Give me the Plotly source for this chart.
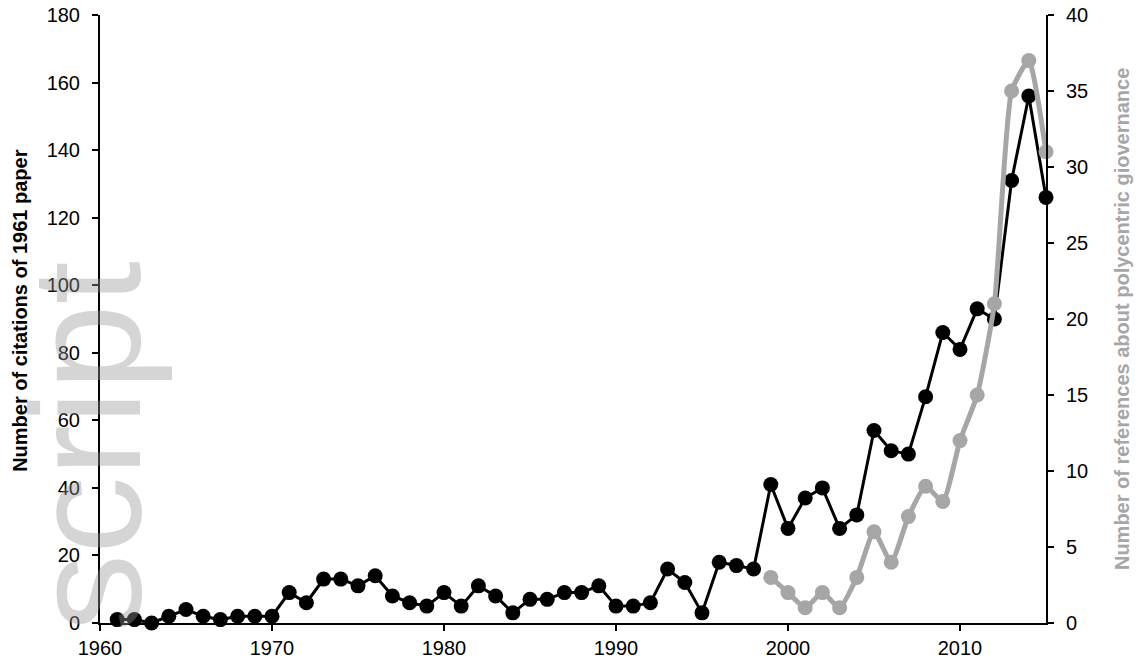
import plotly.graph_objects as go

years_cit = list(range(1961, 2016))
citations = [1, 1, 0, 2, 4, 2, 1, 2, 2, 2,
             9, 6, 13, 13, 11, 14, 8, 6, 5, 9,
             5, 11, 8, 3, 7, 7, 9, 9, 11, 5,
             5, 6, 16, 12, 3, 18, 17, 16, 41, 28,
             37, 40, 28, 32, 57, 51, 50, 67, 86, 81,
             93, 90, 131, 156, 126]

years_ref = list(range(1999, 2016))
references = [3, 2, 1, 2, 1, 3, 6, 4, 7, 9, 8, 12, 15, 21, 35, 37, 31]

x_ticks = [1960, 1970, 1980, 1990, 2000, 2010]
left_ticks = list(range(0, 181, 20))
right_ticks = list(range(0, 41, 5))

GRAY = "#a6a6a6"
FONT = "Liberation Sans, Arial, sans-serif"

fig = go.Figure()
fig.add_trace(go.Scatter(
    x=years_cit, y=citations, mode="lines+markers",
    line=dict(color="black", width=3),
    marker=dict(color="black", size=15),
    name="Citations", yaxis="y", cliponaxis=False,
))
fig.add_trace(go.Scatter(
    x=years_ref, y=references, mode="lines+markers",
    line=dict(color=GRAY, width=5, shape="spline", smoothing=0.5),
    marker=dict(color=GRAY, size=15),
    name="References", yaxis="y2", cliponaxis=False,
))

axis_common = dict(
    showgrid=False, zeroline=False, showline=True, linecolor="black", linewidth=2,
    ticks="outside", ticklen=6, tickwidth=2, tickcolor="black", automargin=False,
    tickfont=dict(family=FONT, size=20, color="black"),
)

fig.update_layout(
    width=1138, height=661,
    margin=dict(l=100, r=92, t=15, b=38),
    paper_bgcolor="white", plot_bgcolor="white",
    showlegend=False,
    font=dict(family=FONT, color="black"),
    xaxis=dict(range=[1960, 2015], tickvals=x_ticks, ticklabelstandoff=0, **axis_common),
    yaxis=dict(range=[0, 180], tickvals=left_ticks, ticklabelstandoff=8, **axis_common),
    yaxis2=dict(range=[0, 40], tickvals=right_ticks, overlaying="y", side="right",
                ticklabelstandoff=8, **axis_common),
    annotations=[
        dict(text="script", textangle=-90, xref="paper", yref="paper",
             x=-0.014, y=0.29, xanchor="center", yanchor="middle", showarrow=False,
             font=dict(family=FONT, size=155, color="rgba(150,150,150,0.40)")),
        dict(text="<b>Number of citations of 1961 paper</b>", textangle=-90,
             xref="paper", yref="paper", x=-0.0846, y=0.515,
             xanchor="center", yanchor="middle", showarrow=False,
             font=dict(family=FONT, size=20, color="black")),
        dict(text="<b>Number of references about polycentric giovernance</b>", textangle=-90,
             xref="paper", yref="paper", x=1.0804, y=0.5,
             xanchor="center", yanchor="middle", showarrow=False,
             font=dict(family=FONT, size=20, color=GRAY)),
    ],
)

fig.write_html("out.html")
